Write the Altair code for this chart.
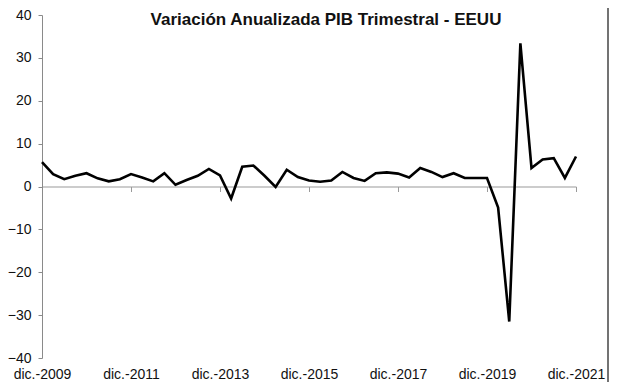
import altair as alt
import pandas as pd

# Quarterly annualized GDP growth, USA: Q4 2009 .. Q4 2021 (49 quarters)
growth = [5.7, 2.9, 1.7, 2.5, 3.1, 1.9, 1.2, 1.7, 2.9, 2.1,
          1.2, 3.1, 0.4, 1.5, 2.5, 4.1, 2.6, -2.8, 4.6, 4.9,
          2.5, -0.1, 3.9, 2.2, 1.4, 1.1, 1.4, 3.4, 2.0, 1.3,
          3.1, 3.3, 3.0, 2.1, 4.3, 3.4, 2.2, 3.1, 2.0, 2.0,
          2.0, -4.9, -31.5, 33.4, 4.3, 6.3, 6.6, 2.0, 7.0]
quarter_index = list(range(len(growth)))
tick_positions = [0, 8, 16, 24, 32, 40, 48]
tick_labels = ["dic.-2009", "dic.-2011", "dic.-2013", "dic.-2015",
               "dic.-2017", "dic.-2019", "dic.-2021"]
y_ticks = [40, 30, 20, 10, 0, -10, -20, -30, -40]
title_text = "Variación Anualizada PIB Trimestral - EEUU"

df = pd.DataFrame({"q": quarter_index, "v": growth})

W, H = 534, 343
FONT = "Liberation Sans"

label_array = "[" + ",".join("'" + t + "'" for t in tick_labels) + "]"

x_axis = alt.Axis(
    values=tick_positions,
    labelExpr=label_array + "[round(datum.value/8)]",
    orient="bottom",
    offset=-(H / 2),
    domainColor="#9a9a9a",
    domainWidth=1.2,
    tickColor="#9a9a9a",
    tickSize=5,
    tickWidth=1,
    grid=False,
    labelPadding=176,
    labelFont=FONT,
    labelFontSize=14,
    labelColor="#111111",
    labelFlush=False,
    labelOverlap=False,
    title=None,
)

y_axis = alt.Axis(
    values=y_ticks,
    domainColor="#8a8a8a",
    domainWidth=1,
    tickColor="#8a8a8a",
    tickSize=4,
    grid=False,
    labelPadding=7,
    labelFont=FONT,
    labelFontSize=14,
    labelColor="#111111",
    title=None,
)

line = alt.Chart(df).mark_line(color="#000000", strokeWidth=2.6, strokeJoin="miter").encode(
    x=alt.X("q:Q", scale=alt.Scale(domain=[0, 48], nice=False, zero=False), axis=x_axis),
    y=alt.Y("v:Q", scale=alt.Scale(domain=[-40, 40], nice=False), axis=y_axis),
)

border = alt.Chart(pd.DataFrame({"a": [0]})).mark_rule(color="#444444", strokeWidth=1.5).encode(
    x=alt.value(566), y=alt.value(-20), y2=alt.value(H + 40)
)

title = alt.Chart(pd.DataFrame({"t": [title_text]})).mark_text(
    font=FONT, fontSize=17, fontWeight="bold", color="#111111",
    align="center", baseline="alphabetic",
).encode(text="t:N", x=alt.value(284), y=alt.value(9.5))

chart = alt.layer(line, border, title).properties(
    width=W,
    height=H,
    autosize=alt.AutoSizeParams(type="none"),
    padding={"left": 34, "top": 7, "right": 33, "bottom": 24},
).configure(background="white").configure_view(stroke=None)

chart.save("out.html", embed_options={"renderer": "svg", "actions": False})
